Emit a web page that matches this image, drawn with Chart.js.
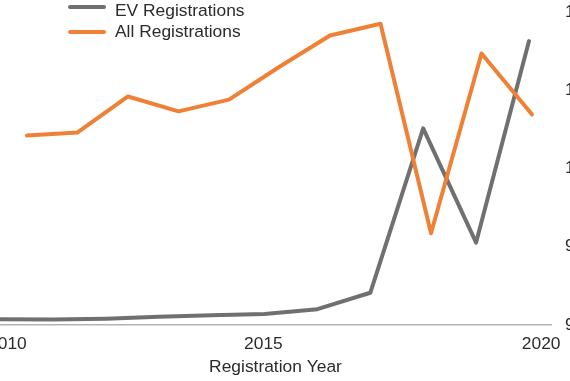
<!DOCTYPE html>
<html>
<head>
<meta charset="utf-8">
<script src="https://cdn.jsdelivr.net/npm/chart.js@4/dist/chart.umd.min.js"></script>
<style>
html, body { margin:0; padding:0; width:570px; height:381px; overflow:hidden; background:#fff; }
#wrap { position:absolute; left:-40px; top:0; width:700px; height:381px; }
.lg-swatch { position:absolute; left:68px; width:38px; height:4px; border-radius:2px; }
.lg-text { position:absolute; left:115px; font:17.4px 'Liberation Sans', Arial, sans-serif; line-height:20px; color:#2b2b2b; white-space:nowrap; }
</style>
</head>
<body>
<div id="wrap"><canvas id="c" width="700" height="381"></canvas></div>
<div id="legend"></div>
<script>
// ---- data ----
const years = [2010, 2011, 2012, 2013, 2014, 2015, 2016, 2017, 2018, 2019, 2020];
const evRegistrations  = [180, 170, 195, 255, 305, 350, 500, 1025, 6280, 2630, 9070];
const allRegistrations = [102100, 102300, 104600, 103650, 104400, 106500, 108500, 109250, 95850, 107350, 103450];
const seriesNames = ['EV Registrations', 'All Registrations'];
const xTickYears  = [2010, 2015, 2020];
const xTickLabels = ['2010', '2015', '2020'];
const xAxisTitle  = 'Registration Year';

// ---- styling ----
const colors = ['#707070', '#ef8136'];
const xLabelShift = [0.14, -0.02, 0.23];

// legend (HTML text)
const legend = document.getElementById('legend');
const swTops = [5, 30], txtTops = [0, 21];
seriesNames.forEach((name, i) => {
  const sw = document.createElement('div');
  sw.className = 'lg-swatch'; sw.style.top = swTops[i] + 'px'; sw.style.background = colors[i];
  const tx = document.createElement('div');
  tx.className = 'lg-text'; tx.style.top = txtTops[i] + 'px'; tx.textContent = name;
  legend.appendChild(sw); legend.appendChild(tx);
});

Chart.defaults.font.family = "'Liberation Sans', Arial, sans-serif";
Chart.defaults.font.size = 17.4;
Chart.defaults.color = '#2b2b2b';

const lineStyle = { borderWidth: 4, pointRadius: 0, pointHoverRadius: 0, tension: 0, fill: false,
                    borderCapStyle: 'round', borderJoinStyle: 'round' };

new Chart(document.getElementById('c'), {
  type: 'line',
  data: {
    labels: years,
    datasets: [
      Object.assign({ label: seriesNames[0], data: evRegistrations, xAxisID: 'x', yAxisID: 'yEV',
        borderColor: colors[0], backgroundColor: colors[0], order: 1 }, lineStyle),
      Object.assign({ label: seriesNames[1], data: allRegistrations, xAxisID: 'x2', yAxisID: 'yAll',
        borderColor: colors[1], backgroundColor: colors[1], order: 0 }, lineStyle)
    ]
  },
  options: {
    responsive: false,
    animation: false,
    devicePixelRatio: 1,
    layout: { padding: { left: 40, top: 12, right: 0, bottom: 0 } },
    plugins: { legend: { display: false }, tooltip: { enabled: false } },
    scales: {
      x: {
        type: 'linear', position: 'bottom', min: 2010, max: 2020.416,
        grid: { display: false, drawTicks: false },
        border: { display: true, color: '#b3b3b3', width: 1.5 },
        afterBuildTicks: s => { s.ticks = xTickYears.map((v, i) => ({ value: v + xLabelShift[i] })); },
        ticks: { padding: 9, maxRotation: 0, autoSkip: false, callback: (v, i) => xTickLabels[i] },
        title: { display: true, text: xAxisTitle, padding: { top: -7, bottom: 3.4 } }
      },
      x2: { type: 'linear', display: false, min: 2009.465, max: 2020.376 },
      yEV: { type: 'linear', position: 'left', display: false, min: 0, max: 10000 },
      yAll: {
        type: 'linear', position: 'right', min: 90000, max: 110000,
        grid: { display: false, drawTicks: false },
        border: { display: false },
        ticks: { stepSize: 5000, padding: 14, callback: v => v.toLocaleString('en-US') },
        afterFit: s => { s.width = 109; s.paddingTop = 0; s.paddingBottom = 0; }
      }
    }
  }
});
</script>
</body>
</html>
